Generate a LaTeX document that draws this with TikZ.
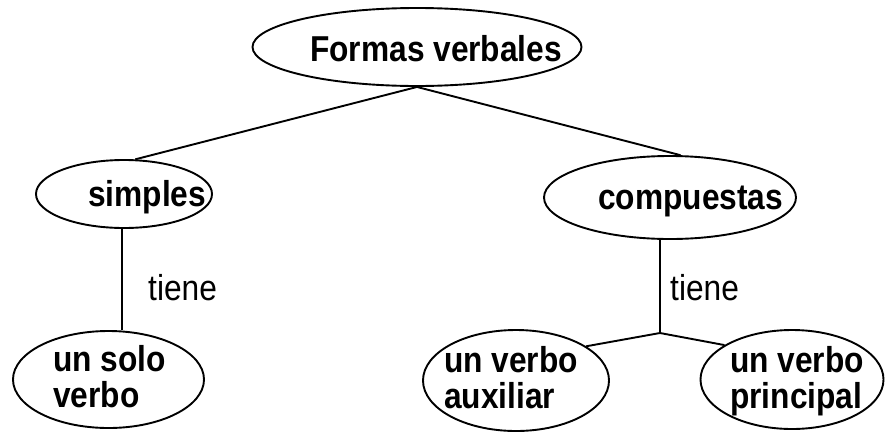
\documentclass[tikz,border=0pt]{standalone}
\usepackage{fontspec}
\usepackage{graphicx}
\setmainfont{Liberation Sans}
\usetikzlibrary{shapes.geometric}
\newcommand{\narrowtxt}[1]{\scalebox{0.88}[1]{#1}}
\tikzset{
  oval/.style={draw, ellipse, line width=1.9pt, inner sep=0pt},
  conn/.style={line width=1.9pt},
  bold/.style={anchor=base west, inner sep=0pt, font=\fontsize{36}{36}\selectfont\bfseries},
  plain/.style={anchor=base west, inner sep=0pt, font=\fontsize{36}{36}\selectfont},
}
\begin{document}
\begin{tikzpicture}[x=1pt, y=-1pt]
\useasboundingbox[fill=white] (0,0) rectangle (885,434);
% ellipses
\node[oval, minimum width=329pt, minimum height=78pt] (formas) at (417,47) {};
\node[oval, minimum width=176pt, minimum height=68pt] (simples) at (124,194) {};
\node[oval, minimum width=252pt, minimum height=83pt] (comp) at (670,197.5) {};
\node[oval, minimum width=191pt, minimum height=97pt] (solo) at (108.5,379.5) {};
\node[oval, minimum width=186pt, minimum height=101pt] (aux) at (516,380.5) {};
\node[oval, minimum width=183pt, minimum height=99pt] (princ) at (792,379.5) {};
% texts
\node[bold] (tformas) at (310,61) {\narrowtxt{Formas verbales}};
\node[bold] (tsimples) at (88,206) {\narrowtxt{simples}};
\node[bold] (tcomp) at (598,209) {\narrowtxt{compuestas}};
\node[bold] (tsoloa) at (53,371) {\narrowtxt{un solo}};
\node[bold] (tsolob) at (53,407) {\narrowtxt{verbo}};
\node[bold] (tauxa) at (444,372) {\narrowtxt{un verbo}};
\node[bold] (tauxb) at (444,408) {\narrowtxt{auxiliar}};
\node[bold] (tprinca) at (730,372) {\narrowtxt{un verbo}};
\node[bold] (tprincb) at (730,408) {\narrowtxt{principal}};
\node[plain] (tiene1) at (148,300) {\narrowtxt{tiene}};
\node[plain] (tiene2) at (670,300) {\narrowtxt{tiene}};
% connectors
\coordinate (sv) at (122,0);
\coordinate (junc) at (660,333);
\draw[conn] (formas.south) -- (simples.72.6);
\draw[conn] (formas.south) -- (comp.76.8);
\draw[conn] (simples.south -| sv) -- (solo.north -| sv);
\draw[conn] (comp.south -| junc) -- (junc);
\draw[conn] (junc) -- (aux.26.2);
\draw[conn] (junc) -- (princ.153.8);
\end{tikzpicture}
\end{document}
